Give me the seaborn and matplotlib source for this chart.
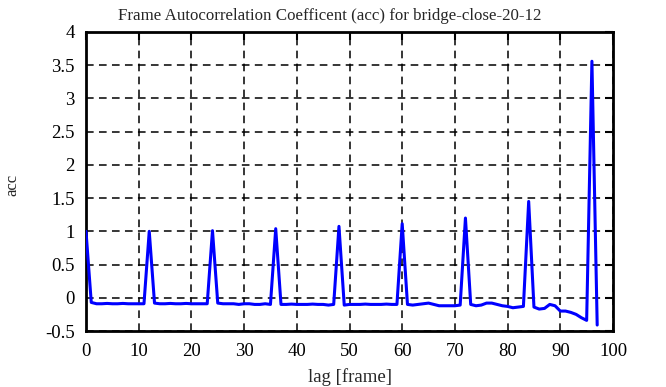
import numpy as np
import pandas as pd
import seaborn as sns
import matplotlib
matplotlib.use("Agg")
import matplotlib.pyplot as plt

lags = list(range(0, 98))
acc = [1.00, -0.07, -0.09, -0.09, -0.085, -0.09, -0.09, -0.085, -0.09, -0.09,
       -0.09, -0.09, 1.00, -0.08, -0.09, -0.09, -0.085, -0.09, -0.09, -0.085,
       -0.09, -0.09, -0.09, -0.09, 1.01, -0.08, -0.09, -0.09, -0.09, -0.1,
       -0.09, -0.09, -0.1, -0.1, -0.09, -0.1, 1.04, -0.1, -0.1, -0.095,
       -0.1, -0.1, -0.1, -0.095, -0.1, -0.1, -0.11, -0.1, 1.075, -0.11,
       -0.1, -0.1, -0.1, -0.095, -0.1, -0.1, -0.1, -0.095, -0.1, -0.1,
       1.115, -0.1, -0.11, -0.1, -0.09, -0.08, -0.1, -0.12, -0.12, -0.12,
       -0.12, -0.11, 1.20, -0.1, -0.12, -0.11, -0.08, -0.08, -0.1, -0.12,
       -0.13, -0.15, -0.14, -0.13, 1.45, -0.14, -0.17, -0.16, -0.1, -0.12,
       -0.2, -0.2, -0.22, -0.25, -0.3, -0.34, 3.56, -0.41]

df = pd.DataFrame({"lag": lags, "acc": acc})

sns.set_style("white")
plt.rcParams['font.family'] = ['Liberation Serif', 'DejaVu Serif']

fig = plt.figure(figsize=(6.66, 3.87), dpi=100)
ax = fig.add_axes([86/666, 1 - 331/387, (613-86)/666, (331-32)/387])

sns.lineplot(data=df, x="lag", y="acc", ax=ax, color=(0, 0, 1), linewidth=2.2, zorder=3)

ax.set_xlim(0, 100)
ax.set_ylim(-0.5, 4)
ax.set_xticks(np.arange(0, 101, 10))
ax.set_yticks(np.arange(-0.5, 4.01, 0.5))
ax.set_yticklabels(["-0.5", "0", "0.5", "1", "1.5", "2", "2.5", "3", "3.5", "4"])
ax.grid(True, color="black", linestyle=(0, (5, 3.5)), linewidth=1.1)
for s in ax.spines.values():
    s.set_color("black")
    s.set_linewidth(2)
ax.tick_params(direction="in", length=6, width=1.5, top=True, right=True,
               labelsize=13.5, colors="black")
ax.tick_params(axis="x", pad=9)
ax.tick_params(axis="y", pad=8)
ax.set_xlabel("lag [frame]", fontsize=13.5)
ax.set_ylabel("acc", fontsize=12, rotation=90)
ax.yaxis.set_label_coords(-74/527, (331-185)/299)
ax.xaxis.set_label_coords(0.5, -(377-331)/299)
ax.xaxis.label.set_va("center")
ax.yaxis.label.set_va("center")
ax.set_title("Frame Autocorrelation Coefficent (acc) for bridge-close-20-12",
             fontsize=12.2, pad=9, x=(330-86)/527)

fig.savefig("out.png", dpi=100)
